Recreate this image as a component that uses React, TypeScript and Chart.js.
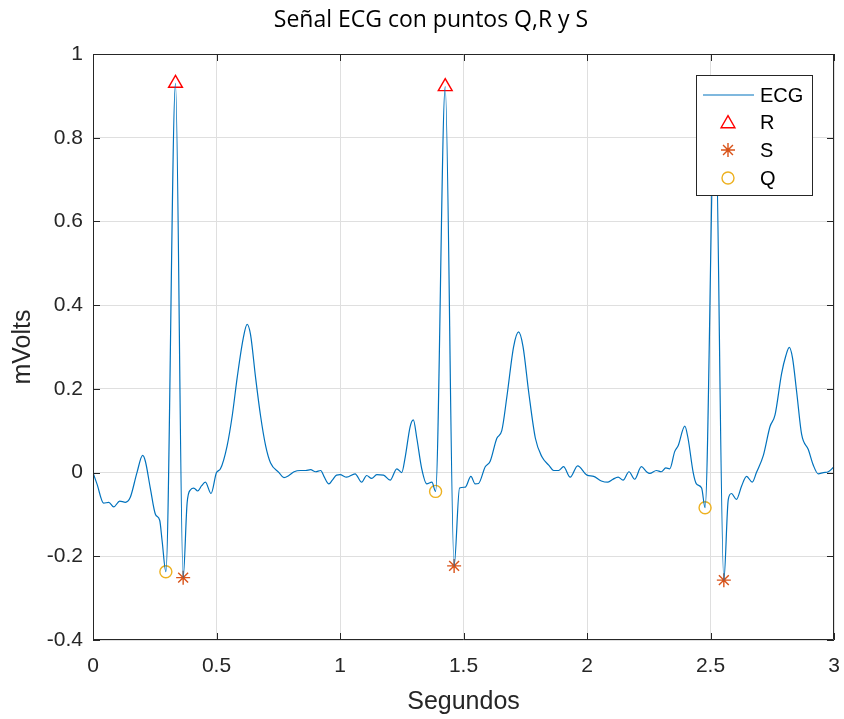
import React, { useEffect, useRef } from "react";
import { Chart, registerables } from "chart.js";

Chart.register(...registerables);

// ---- Data ----
const timeSec = [
  0, 0.016, 0.043, 0.064, 0.084, 0.108, 0.131, 0.151, 0.178, 0.201, 0.212, 0.232, 0.253, 0.27, 0.28, 0.295,
  0.334, 0.365, 0.381, 0.395, 0.408, 0.424, 0.439, 0.455, 0.478, 0.5, 0.516, 0.543, 0.564, 0.584, 0.608, 0.624,
  0.638, 0.658, 0.678, 0.699, 0.719, 0.753, 0.773, 0.793, 0.814, 0.841, 0.861, 0.881, 0.901, 0.922, 0.935, 0.955,
  0.969, 0.986, 1.0, 1.027, 1.061, 1.088, 1.108, 1.128, 1.149, 1.176, 1.203, 1.23, 1.25, 1.264, 1.284, 1.297,
  1.311, 1.331, 1.351, 1.372, 1.387, 1.426, 1.462, 1.484, 1.507, 1.53, 1.547, 1.561, 1.588, 1.608, 1.635, 1.655,
  1.676, 1.703, 1.723, 1.741, 1.764, 1.791, 1.818, 1.845, 1.865, 1.885, 1.905, 1.932, 1.962, 2.0, 2.027, 2.058,
  2.085, 2.105, 2.126, 2.146, 2.17, 2.193, 2.22, 2.241, 2.254, 2.281, 2.301, 2.319, 2.335, 2.355, 2.369, 2.396,
  2.409, 2.43, 2.443, 2.464, 2.478, 2.518, 2.554, 2.572, 2.585, 2.605, 2.626, 2.646, 2.669, 2.686, 2.714, 2.741,
  2.761, 2.788, 2.805, 2.819, 2.832, 2.849, 2.869, 2.896, 2.916, 2.936, 2.957, 2.977, 3.0,
];
const ecgMv = [
  0, -0.027, -0.073, -0.071, -0.082, -0.068, -0.071, -0.059, 0, 0.041, 0.027, -0.037, -0.1, -0.114, -0.164, -0.237,
  0.93, -0.251, -0.073, -0.041, -0.037, -0.044, -0.032, -0.023, -0.05, 0, 0.009, 0.064, 0.137, 0.228, 0.32, 0.354,
  0.329, 0.228, 0.137, 0.064, 0.023, 0, -0.012, -0.007, 0.002, 0.005, 0.005, 0.007, 0.002, 0.005, -0.009, -0.027,
  -0.018, -0.006, -0.005, -0.011, -0.003, -0.023, -0.007, -0.014, -0.005, -0.006, -0.018, 0.009, 0, 0.037, 0.11, 0.126,
  0.082, 0.009, -0.027, -0.023, -0.045, 0.922, -0.223, -0.037, -0.035, -0.009, -0.027, -0.026, 0.014, 0.027, 0.082, 0.1,
  0.183, 0.301, 0.336, 0.301, 0.192, 0.082, 0.037, 0.018, 0.005, 0.005, 0.014, -0.011, 0.016, -0.006, -0.009, -0.02,
  -0.023, -0.016, -0.011, -0.018, 0.002, -0.016, 0.014, 0.002, -0.002, 0.005, 0.002, 0.011, 0.009, 0.05, 0.064, 0.111,
  0.082, 0, -0.027, -0.037, -0.084, 0.91, -0.257, -0.064, -0.05, -0.064, -0.032, -0.009, -0.023, 0, 0.041, 0.11,
  0.137, 0.237, 0.279, 0.299, 0.274, 0.192, 0.091, 0.055, 0.018, -0.003, 0, 0.002, 0.014,
];

const rTime = [0.334, 1.426, 2.518];
const rVal = [0.93, 0.922, 0.91];
const sTime = [0.365, 1.462, 2.554];
const sVal = [-0.251, -0.223, -0.257];
const qTime = [0.295, 1.387, 2.478];
const qVal = [-0.237, -0.045, -0.084];

const xTickValues = [0, 0.5, 1, 1.5, 2, 2.5, 3];
const yTickValues = [-0.4, -0.2, 0, 0.2, 0.4, 0.6, 0.8, 1];

const titleText = "Señal ECG con puntos Q,R y S";
const xLabel = "Segundos";
const yLabel = "mVolts";
const legendLabels = ["ECG", "R", "S", "Q"];

const C_LINE = "#0072BD";
const C_R = "#FF0000";
const C_S = "#D95319";
const C_Q = "#EDB120";
const AX = "#262626";
const TICK_FONT = "'Liberation Sans', Arial, Helvetica, sans-serif";

const toXY = (xs: number[], ys: number[]) => xs.map((x, i) => ({ x, y: ys[i] }));

function drawPointLocal(ctx: CanvasRenderingContext2D, style: string, color: string, r: number, x: number, y: number) {
  ctx.save();
  ctx.strokeStyle = color;
  ctx.lineWidth = 1.4;
  ctx.beginPath();
  if (style === "circle") {
    ctx.arc(x, y, r, 0, Math.PI * 2);
  } else if (style === "triangle") {
    for (let k = 0; k < 3; k++) {
      const a = (k * 2 * Math.PI) / 3;
      const px = x + Math.sin(a) * r;
      const py = y - Math.cos(a) * r;
      if (k === 0) ctx.moveTo(px, py);
      else ctx.lineTo(px, py);
    }
    ctx.closePath();
  } else if (style === "star") {
    for (let k = 0; k < 4; k++) {
      const a = (k * Math.PI) / 4;
      ctx.moveTo(x + Math.cos(a) * r, y + Math.sin(a) * r);
      ctx.lineTo(x - Math.cos(a) * r, y - Math.sin(a) * r);
    }
  }
  ctx.stroke();
  ctx.restore();
}

const decorPlugin = {
  id: "decor",
  afterDraw(chart: any) {
    const { ctx, chartArea } = chart;
    const { left, right, top, bottom } = chartArea;
    const xs = chart.scales.x;
    const ys = chart.scales.y;
    ctx.save();
    // box
    ctx.strokeStyle = AX;
    ctx.lineWidth = 1;
    ctx.beginPath();
    ctx.rect(Math.round(left) + 0.5, Math.round(top) + 0.5, Math.round(right - left) - 1, Math.round(bottom - top) - 1);
    ctx.stroke();
    // inward ticks on all four sides
    const tl = 7;
    ctx.beginPath();
    xTickValues.forEach((v) => {
      const px = Math.round(xs.getPixelForValue(v)) + 0.5;
      ctx.moveTo(px, bottom);
      ctx.lineTo(px, bottom - tl);
      ctx.moveTo(px, top);
      ctx.lineTo(px, top + tl);
    });
    yTickValues.forEach((v) => {
      const py = Math.round(ys.getPixelForValue(v)) + 0.5;
      ctx.moveTo(left, py);
      ctx.lineTo(left + tl, py);
      ctx.moveTo(right, py);
      ctx.lineTo(right - tl, py);
    });
    ctx.stroke();

    // title
    ctx.fillStyle = "#000000";
    ctx.font = "23px 'Open Sans', 'Noto Sans', sans-serif";
    ctx.textAlign = "center";
    ctx.textBaseline = "alphabetic";
    ctx.fillText(titleText, 431, 26.5);

    // legend
    const lx = 696, ly = 75, lw = 116, lh = 120;
    ctx.fillStyle = "#ffffff";
    ctx.fillRect(lx, ly, lw, lh);
    ctx.strokeStyle = AX;
    ctx.lineWidth = 1;
    ctx.strokeRect(lx + 0.5, ly + 0.5, lw, lh);
    const rows = [95, 122.7, 150, 178];
    const mx = 728;
    ctx.strokeStyle = C_LINE;
    ctx.lineWidth = 1.2;
    ctx.beginPath();
    ctx.moveTo(703, rows[0]);
    ctx.lineTo(754, rows[0]);
    ctx.stroke();
    drawPointLocal(ctx, "triangle", C_R, 8, mx, rows[1] + 1);
    drawPointLocal(ctx, "star", C_S, 7, mx, rows[2]);
    drawPointLocal(ctx, "circle", C_Q, 6, mx, rows[3]);
    ctx.fillStyle = "#000000";
    ctx.font = "20px " + TICK_FONT;
    ctx.textAlign = "left";
    ctx.textBaseline = "middle";
    legendLabels.forEach((t, i) => ctx.fillText(t, 760, rows[i] + 1));
    ctx.restore();
  },
};

export default function App() {
  const ref = useRef<HTMLCanvasElement | null>(null);
  useEffect(() => {
    if (!ref.current) return;
    const chart = new Chart(ref.current, {
      type: "line",
      data: {
        datasets: [
          {
            label: "ECG",
            data: toXY(timeSec, ecgMv),
            borderColor: C_LINE,
            borderWidth: 1.2,
            pointRadius: 0,
            cubicInterpolationMode: "monotone",
            fill: false,
          },
          {
            label: "R",
            data: toXY(rTime, rVal),
            showLine: false,
            pointStyle: "triangle",
            pointRadius: 8,
            borderColor: C_R,
            backgroundColor: "rgba(0,0,0,0)",
            pointBorderWidth: 1.4,
          },
          {
            label: "S",
            data: toXY(sTime, sVal),
            showLine: false,
            pointStyle: "star",
            pointRadius: 7,
            borderColor: C_S,
            backgroundColor: "rgba(0,0,0,0)",
            pointBorderWidth: 1.4,
          },
          {
            label: "Q",
            data: toXY(qTime, qVal),
            showLine: false,
            pointStyle: "circle",
            pointRadius: 6,
            borderColor: C_Q,
            backgroundColor: "rgba(0,0,0,0)",
            pointBorderWidth: 1.4,
          },
        ] as any,
      },
      options: {
        animation: false,
        responsive: true,
        maintainAspectRatio: false,
        layout: { padding: { left: 0, right: 10, top: 54, bottom: 0 } },
        plugins: { legend: { display: false }, title: { display: false }, tooltip: { enabled: false } },
        scales: {
          x: {
            type: "linear",
            min: 0,
            max: 3,
            afterBuildTicks: (s: any) => {
              s.ticks = xTickValues.map((v) => ({ value: v }));
            },
            afterFit: (s: any) => {
              s.height = 79;
              s.paddingLeft = 0;
              s.paddingRight = 0;
            },
            grid: { color: "#dfdfdf", lineWidth: 1, drawTicks: false },
            border: { display: false },
            ticks: {
              padding: 14,
              color: AX,
              font: { family: TICK_FONT, size: 21 },
              maxRotation: 0,
              autoSkip: false,
              callback: (v: any) => String(Math.round(Number(v) * 10) / 10),
            },
            title: {
              display: true,
              text: xLabel,
              color: AX,
              font: { family: TICK_FONT, size: 25 },
              padding: { top: 0, bottom: 2 },
            },
          },
          y: {
            type: "linear",
            min: -0.4,
            max: 1,
            afterBuildTicks: (s: any) => {
              s.ticks = yTickValues.map((v) => ({ value: v }));
            },
            afterFit: (s: any) => {
              s.width = 93;
              s.paddingTop = 0;
              s.paddingBottom = 0;
            },
            grid: { color: "#dfdfdf", lineWidth: 1, drawTicks: false },
            border: { display: false },
            ticks: {
              padding: 10,
              color: AX,
              font: { family: TICK_FONT, size: 21 },
              autoSkip: false,
              callback: (v: any) => String(Math.round(Number(v) * 10) / 10),
            },
            title: {
              display: true,
              text: yLabel,
              color: AX,
              font: { family: TICK_FONT, size: 25 },
              padding: { top: 8, bottom: 0 },
            },
          },
        },
      },
      plugins: [decorPlugin],
    } as any);
    return () => chart.destroy();
  }, []);
  return (
    <div style={{ position: "absolute", left: 0, top: 0, width: 844, height: 719, background: "#ffffff" }}>
      <canvas ref={ref} />
    </div>
  );
}
